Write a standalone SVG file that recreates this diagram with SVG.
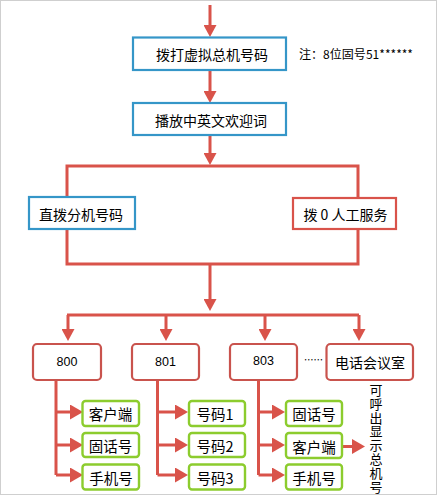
<svg xmlns="http://www.w3.org/2000/svg" width="439" height="497" viewBox="0 0 439 497">
<style>
  text { font-family: "Noto Sans CJK SC", "Liberation Sans", sans-serif; fill: #000; dominant-baseline: central; }
  .t14 { font-size: 14px; text-anchor: middle; }
  .t15 { font-size: 14.5px; text-anchor: middle; }
  .num { font-family: "Liberation Sans", "Noto Sans CJK SC", sans-serif; font-size: 12.5px; text-anchor: middle; }
  .blue { fill: #fff; stroke: #3596c8; stroke-width: 2.2; }
  .redbox { fill: #fff; stroke: #d9534a; stroke-width: 2.2; }
  .row { fill: #fff; stroke: #c9534d; stroke-width: 2.2; }
  .green { fill: #fff; stroke: #8ccc2e; stroke-width: 2.4; }
  .ln { fill: none; stroke: #d9534a; stroke-width: 3; }
</style>
<defs>
  <marker id="ah" markerUnits="userSpaceOnUse" markerWidth="12" markerHeight="13" refX="0" refY="6.5" orient="auto" viewBox="0 0 12 13">
    <path d="M0,0 L12,6.5 L0,13 z" fill="#d9534a"/>
  </marker>
  <marker id="ah2" markerUnits="userSpaceOnUse" markerWidth="13" markerHeight="15" refX="0" refY="7.5" orient="auto" viewBox="0 0 13 15">
    <path d="M0,0 L13,7.5 L0,15 z" fill="#d9534a"/>
  </marker>
</defs>
<rect x="0.5" y="0.5" width="436" height="494" fill="#fff" stroke="#cfcfcf" stroke-width="1"/>

<g id="connectors">
  <path class="ln" d="M210,5 V25" marker-end="url(#ah)"/>
  <path class="ln" d="M210,70 V91" marker-end="url(#ah)"/>
  <path class="ln" d="M210,135 V153" marker-end="url(#ah)"/>
  <path class="ln" d="M67,166 H358 V264 H67 Z"/>
  <path class="ln" d="M210,264 V299" marker-end="url(#ah)"/>
  <path class="ln" d="M67,315 H359"/>
  <path class="ln" d="M68,315 V329" marker-end="url(#ah)"/>
  <path class="ln" d="M166,315 V329" marker-end="url(#ah)"/>
  <path class="ln" d="M265,315 V329" marker-end="url(#ah)"/>
  <path class="ln" d="M359,315 V329" marker-end="url(#ah)"/>
  <path class="ln" d="M56,380 V475"/>
  <path class="ln" d="M56,412 H70" marker-end="url(#ah2)"/>
  <path class="ln" d="M56,445 H70" marker-end="url(#ah2)"/>
  <path class="ln" d="M56,475 H70" marker-end="url(#ah2)"/>
  <path class="ln" d="M157.5,380 V475"/>
  <path class="ln" d="M157.5,412 H175" marker-end="url(#ah2)"/>
  <path class="ln" d="M157.5,445 H175" marker-end="url(#ah2)"/>
  <path class="ln" d="M157.5,475 H175" marker-end="url(#ah2)"/>
  <path class="ln" d="M258.5,380 V475"/>
  <path class="ln" d="M258.5,412 H272" marker-end="url(#ah2)"/>
  <path class="ln" d="M258.5,445 H272" marker-end="url(#ah2)"/>
  <path class="ln" d="M258.5,475 H272" marker-end="url(#ah2)"/>
  <path class="ln" d="M342,446.5 H352" marker-end="url(#ah2)"/>
</g>

<g id="n-dial">
  <rect class="blue" x="133" y="37.5" width="153" height="32.5"/>
  <text class="t14" x="212" y="54">拨打虚拟总机号码</text>
</g>
<g id="n-note">
  <text x="299" y="53" style="font-size:12px" textLength="114" lengthAdjust="spacingAndGlyphs">注：8位固号51******</text>
</g>
<g id="n-welcome">
  <rect class="blue" x="133" y="103" width="153" height="32"/>
  <text class="t14" x="211" y="119.5">播放中英文欢迎词</text>
</g>
<g id="n-direct">
  <rect class="blue" x="29" y="197" width="106" height="32"/>
  <text x="39" y="213.5" style="font-size:14px">直拨分机号码</text>
</g>
<g id="n-operator">
  <rect class="redbox" x="293" y="198" width="103" height="31"/>
  <text class="t14" x="345.5" y="214">拨 0 人工服务</text>
</g>

<g id="n-800">
  <rect class="row" x="33" y="344" width="68" height="36" rx="4"/>
  <text class="num" x="67" y="362">800</text>
</g>
<g id="n-801">
  <rect class="row" x="132" y="344" width="67" height="36" rx="4"/>
  <text class="num" x="165.5" y="362">801</text>
</g>
<g id="n-803">
  <rect class="row" x="230" y="344" width="67" height="36" rx="4"/>
  <text class="num" x="263.5" y="361">803</text>
</g>
<g id="n-dots">
  <text x="304" y="359" style="font-size:12px" textLength="19" lengthAdjust="spacingAndGlyphs">……</text>
</g>
<g id="n-conf">
  <rect class="row" x="326.5" y="344" width="86.5" height="36" rx="4"/>
  <text class="t14" x="370" y="362">电话会议室</text>
</g>

<g id="n-800-a"><rect class="green" x="82.5" y="401" width="56.5" height="25" rx="3"/><text class="t15" x="110.5" y="413.5">客户端</text></g>
<g id="n-800-b"><rect class="green" x="82.5" y="433" width="56.5" height="24" rx="3"/><text class="t15" x="110.5" y="445">固话号</text></g>
<g id="n-800-c"><rect class="green" x="82.5" y="464.5" width="56.5" height="25" rx="3"/><text class="t15" x="111" y="477">手机号</text></g>

<g id="n-801-a"><rect class="green" x="189" y="401" width="56" height="25" rx="3"/><text class="t15" x="215" y="413.5">号码1</text></g>
<g id="n-801-b"><rect class="green" x="189" y="433" width="56" height="24" rx="3"/><text class="t15" x="215" y="445">号码2</text></g>
<g id="n-801-c"><rect class="green" x="189" y="464.5" width="56" height="25" rx="3"/><text class="t15" x="215" y="477">号码3</text></g>

<g id="n-803-a"><rect class="green" x="286" y="401" width="56" height="25" rx="3"/><text class="t15" x="314" y="413.5">固话号</text></g>
<g id="n-803-b"><rect class="green" x="286" y="433" width="56" height="25" rx="3"/><text class="t15" x="314" y="446">客户端</text></g>
<g id="n-803-c"><rect class="green" x="286" y="464.5" width="56" height="25" rx="3"/><text class="t15" x="314" y="477">手机号</text></g>

<g id="n-display">
  <text x="376" y="383.5" style="font-size:13px;writing-mode:vertical-rl;letter-spacing:0.8px">可呼出显示总机号</text>
</g>
</svg>
